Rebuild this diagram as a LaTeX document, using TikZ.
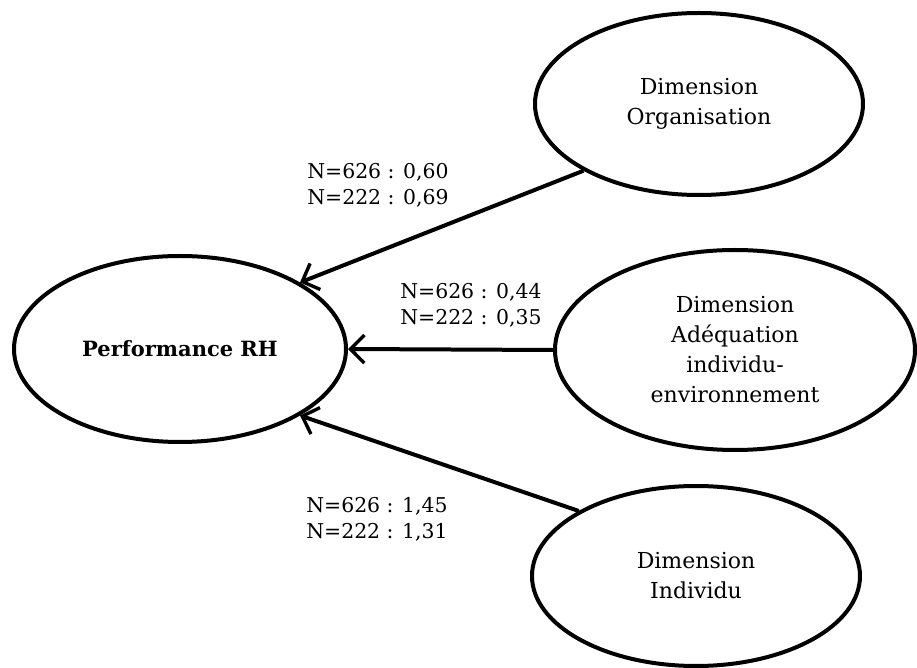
\documentclass[tikz,border=0pt]{standalone}
\usepackage{fontspec}
\setmainfont{DejaVu Serif}
\usepackage{tikz}
\usetikzlibrary{shapes.geometric,arrows.meta}
\newcommand{\pxunit}{0.5pt}
\newcommand{\prvaleur}[4]{\node[valeur] (#1) at (#2) {N=626 : #3\\N=222 : #4};}

\tikzset{
  dim/.style={draw, ellipse, line width=2pt, inner sep=0pt, align=center,
    font=\fontsize{11}{15}\selectfont},
  valeur/.style={align=center, font=\fontsize{10.2}{13}\selectfont},
  lien/.style={line width=2pt, -{Straight Barb[length=7pt,width=14pt,line width=1.7pt]}}
}

\begin{document}
\begin{tikzpicture}[x=\pxunit, y=-\pxunit]
	\useasboundingbox (0,0) rectangle (917,668);

    \node[dim, minimum width=166pt, minimum height=93pt] (perf) at (180,349) {\fontsize{10.5}{15}\selectfont\textbf{Performance RH}};
    \node[dim, minimum width=164pt, minimum height=91pt] (orga) at (699,104) {Dimension\\Organisation};
    \node[dim, minimum width=180pt, minimum height=100pt] (adeq) at (735,350) {Dimension\\Adéquation\\individu-\\environnement};
    \node[dim, minimum width=164pt, minimum height=90pt] (indiv) at (696,576) {Dimension\\Individu};

    \draw[lien] (orga.-150) -- (perf.29);
    \draw[lien] (adeq.west) -- (perf.east);
    \draw[lien] (indiv.151) -- (perf.-29);

    \prvaleur{v1}{378,185}{0,60}{0,69}
    \prvaleur{v2}{471,305}{0,44}{0,35}
    \prvaleur{v3}{377,519}{1,45}{1,31}
    \end{tikzpicture}
\end{document}
